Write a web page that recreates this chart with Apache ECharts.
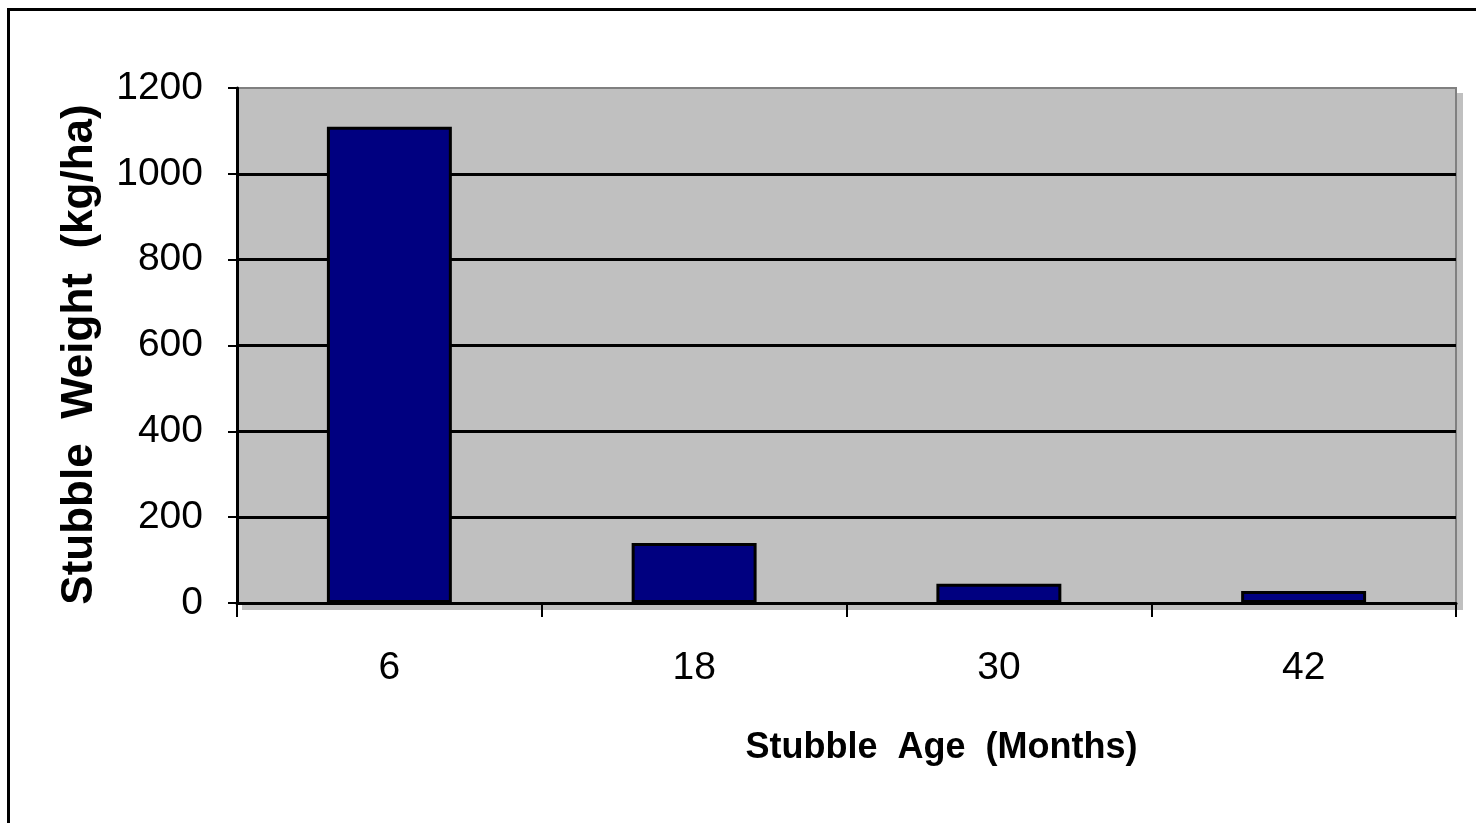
<!DOCTYPE html>
<html>
<head>
<meta charset="utf-8">
<title>Stubble Weight by Stubble Age</title>
<script src="https://cdn.jsdelivr.net/npm/echarts@6/dist/echarts.min.js"></script>
<style>
  html, body { margin: 0; padding: 0; background: #ffffff; }
  #chart { width: 1476px; height: 823px; }
</style>
</head>
<body>
<div id="chart"></div>
<script>
// Stubble age classes (months) and mean stubble weight (kg/ha)
const ageMonths = ['6', '18', '30', '42'];
const stubbleWeight = [1110, 140, 45, 28];
const weightTicks = { min: 0, max: 1200, step: 200 };

const FONT = '"Liberation Sans", Arial, sans-serif';

const chart = echarts.init(document.getElementById('chart'), null, { renderer: 'canvas' });

chart.setOption({
  backgroundColor: '#ffffff',
  animation: false,
  textStyle: { fontFamily: FONT, color: '#000000' },
  graphic: [
    {
      // frame around the whole chart
      type: 'rect',
      silent: true,
      z: -10,
      shape: { x: 8.5, y: 9.5, width: 1500, height: 850 },
      style: { fill: 'none', stroke: '#000000', lineWidth: 3 }
    }
  ],
  grid: {
    left: 237,
    right: 20,
    top: 88,
    bottom: 220,
    show: true,
    backgroundColor: '#c0c0c0',
    borderColor: '#808080',
    borderWidth: 2,
    shadowColor: '#c0c0c0',
    shadowBlur: 0,
    shadowOffsetX: 6,
    shadowOffsetY: 6
  },
  xAxis: {
    type: 'category',
    data: ageMonths,
    boundaryGap: true,
    name: 'Stubble  Age  (Months)',
    nameLocation: 'middle',
    nameGap: 127,
    nameTextStyle: {
      fontFamily: FONT,
      fontSize: 36,
      fontWeight: 'bold',
      color: '#000000',
      padding: [0, 0, 0, 190]
    },
    axisLine: { show: true, lineStyle: { color: '#000000', width: 3 } },
    axisTick: { show: true, length: 14, lineStyle: { color: '#000000', width: 2 } },
    axisLabel: { fontSize: 39, color: '#000000', margin: 46, fontFamily: FONT },
    splitLine: { show: false }
  },
  yAxis: {
    type: 'value',
    min: weightTicks.min,
    max: weightTicks.max,
    interval: weightTicks.step,
    name: 'Stubble  Weight  (kg/ha)',
    nameLocation: 'middle',
    nameGap: 135,
    nameTextStyle: {
      fontFamily: FONT,
      fontSize: 44,
      fontWeight: 'bold',
      color: '#000000',
      padding: [0, 18, 0, 0]
    },
    axisLine: { show: true, lineStyle: { color: '#000000', width: 3 } },
    axisTick: { show: true, length: 9, lineStyle: { color: '#000000', width: 2 } },
    axisLabel: {
      fontSize: 39,
      color: '#000000',
      margin: 34,
      fontFamily: FONT,
      formatter: function (v) { return String(v); }
    },
    splitLine: {
      show: true,
      showMinLine: false,
      showMaxLine: false,
      lineStyle: { color: '#000000', width: 3 }
    }
  },
  series: [
    {
      type: 'bar',
      data: stubbleWeight,
      barWidth: '41%',
      itemStyle: {
        color: '#000080',
        borderColor: '#000000',
        borderWidth: 3
      }
    }
  ]
});
</script>
</body>
</html>
